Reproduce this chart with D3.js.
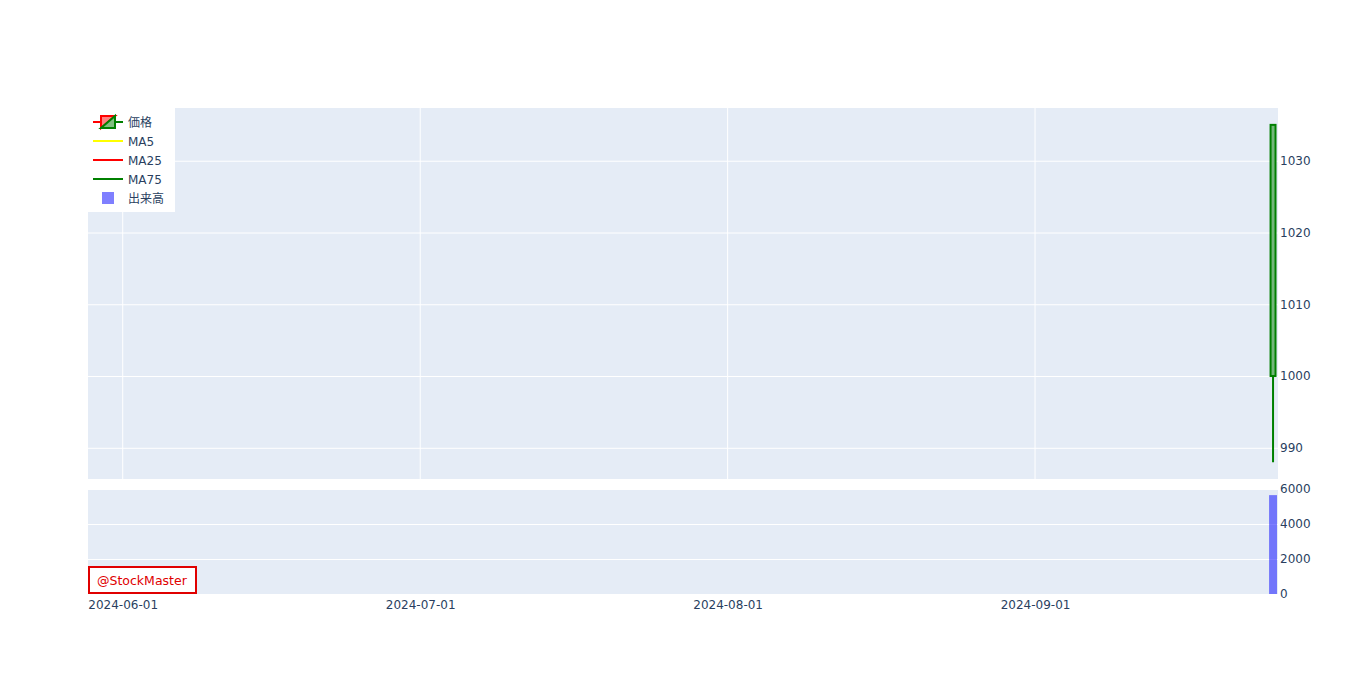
<!DOCTYPE html>
<html>
<head>
<meta charset="utf-8">
<script src="https://cdn.jsdelivr.net/npm/d3@7"></script>
<style>
  body { margin: 0; background: #fff; }
  text { font-family: "DejaVu Sans", Verdana, "Noto Sans CJK JP", sans-serif; }
</style>
</head>
<body>
<div class="chart"></div>
<script>
// data
const dates = ["2024-09-25"];
const openPrice = [1000];
const highPrice = [1035];
const lowPrice = [988];
const closePrice = [1035];
const volume = [5650];
const ma5 = [null];
const ma25 = [null];
const ma75 = [null];
const priceTicks = [990, 1000, 1010, 1020, 1030];
const volumeTicks = [0, 2000, 4000, 6000];
const xRange = ["2024-05-28T12:00:00Z", "2024-09-25T12:00:00Z"];

const width = 1366,
  height = 683;
const left = 88,
  right = 1278;
const priceTop = 108,
  priceBottom = 479;
const volTop = 489,
  volBottom = 594;
const bg = "#e5ecf6",
  tickColor = "#2a3f5f";

const rows = dates.map((d, i) => ({
  date: new Date(d + "T00:00:00Z"),
  open: openPrice[i],
  high: highPrice[i],
  low: lowPrice[i],
  close: closePrice[i],
  volume: volume[i],
}));

const svg = d3
  .select(".chart")
  .append("svg")
  .attr("width", width)
  .attr("height", height);

const x = d3
  .scaleUtc()
  .domain(xRange.map((d) => new Date(d)))
  .range([left, right]);

const y = d3.scaleLinear().domain([985.65, 1037.35]).range([priceBottom, priceTop]);
const yVol = d3.scaleLinear().domain([0, 6000]).range([volBottom, volTop]);

// panel backgrounds
svg.append("rect").attr("x", left).attr("y", priceTop)
  .attr("width", right - left).attr("height", priceBottom - priceTop).attr("fill", bg);
svg.append("rect").attr("x", left).attr("y", volTop)
  .attr("width", right - left).attr("height", volBottom - volTop).attr("fill", bg);

// price grid + axis (right side)
const priceAxis = d3.axisRight(y).tickValues(priceTicks).tickFormat(d3.format("d"))
  .tickSize(-(right - left)).tickPadding(2);
const pa = svg.append("g").attr("transform", "translate(" + right + ",0)").call(priceAxis);
pa.select(".domain").remove();
pa.selectAll("line").attr("stroke", "#fff").attr("stroke-width", 1);
pa.selectAll("text").attr("fill", tickColor).style("font-size", "12px");

// vertical grid only in price panel
const monthTicks = x.ticks(d3.utcMonth.every(1));
svg.append("g").selectAll("line").data(monthTicks).enter().append("line")
  .attr("x1", (d) => x(d)).attr("x2", (d) => x(d))
  .attr("y1", priceTop).attr("y2", priceBottom)
  .attr("stroke", "#fff").attr("stroke-width", 1);

// volume grid + axis
const volAxis = d3.axisRight(yVol).tickValues(volumeTicks).tickFormat(d3.format("d"))
  .tickSize(-(right - left)).tickPadding(2);
const va = svg.append("g").attr("transform", "translate(" + right + ",0)").call(volAxis);
va.select(".domain").remove();
va.selectAll("line").attr("stroke", "#fff").attr("stroke-width", 1);
va.selectAll("text").attr("fill", tickColor).style("font-size", "12px");

// date axis under volume panel
const xa = svg.append("g").attr("transform", "translate(0," + volBottom + ")")
  .call(d3.axisBottom(x).tickValues(monthTicks).tickFormat(d3.utcFormat("%Y-%m-%d")).tickSize(0).tickPadding(6));
xa.select(".domain").remove();
xa.selectAll("text").attr("fill", tickColor).style("font-size", "12px");

// moving averages (no values yet)
const maLine = d3.line()
  .defined((d) => d.v != null)
  .x((d) => x(d.date))
  .y((d) => y(d.v));
[[ma5, "yellow"], [ma25, "red"], [ma75, "green"]].forEach(([vals, c]) => {
  svg.append("path")
    .datum(rows.map((r, i) => ({ date: r.date, v: vals[i] })))
    .attr("d", maLine).attr("fill", "none").attr("stroke", c).attr("stroke-width", 2);
});

// candles
const dayPx = x(new Date("2024-06-02T00:00:00Z")) - x(new Date("2024-06-01T00:00:00Z"));
const bodyW = dayPx * 0.5;
const candles = svg.append("g").selectAll("g").data(rows).enter().append("g");
candles.append("line")
  .attr("x1", (d) => x(d.date)).attr("x2", (d) => x(d.date))
  .attr("y1", (d) => y(d.high)).attr("y2", (d) => y(d.low))
  .attr("stroke", (d) => (d.close >= d.open ? "green" : "red")).attr("stroke-width", 2);
candles.append("rect")
  .attr("x", (d) => x(d.date) - bodyW / 2)
  .attr("y", (d) => y(Math.max(d.open, d.close)))
  .attr("width", bodyW)
  .attr("height", (d) => Math.abs(y(d.open) - y(d.close)))
  .attr("fill", (d) => (d.close >= d.open ? "rgb(115,182,123)" : "rgb(242,118,123)"))
  .attr("stroke", (d) => (d.close >= d.open ? "green" : "red")).attr("stroke-width", 2);

// volume bars
const barW = dayPx * 0.8;
svg.append("g").selectAll("rect").data(rows).enter().append("rect")
  .attr("x", (d) => x(d.date) - barW / 2)
  .attr("y", (d) => yVol(d.volume))
  .attr("width", barW)
  .attr("height", (d) => yVol(0) - yVol(d.volume))
  .attr("fill", "blue").attr("fill-opacity", 0.5);

// legend
const legend = svg.append("g").attr("class", "legend");
legend.append("rect").attr("x", left).attr("y", priceTop).attr("width", 87).attr("height", 104).attr("fill", "#fff");
const legendItems = [
  { name: "価格", kind: "candle" },
  { name: "MA5", kind: "line", color: "yellow" },
  { name: "MA25", kind: "line", color: "red" },
  { name: "MA75", kind: "line", color: "green" },
  { name: "出来高", kind: "bar" },
];
legendItems.forEach((it, i) => {
  const cy = 122 + i * 19;
  const g = legend.append("g");
  if (it.kind === "line") {
    g.append("line").attr("x1", 93).attr("x2", 123).attr("y1", cy).attr("y2", cy)
      .attr("stroke", it.color).attr("stroke-width", 2);
  } else if (it.kind === "candle") {
    g.append("line").attr("x1", 93).attr("x2", 101).attr("y1", cy).attr("y2", cy).attr("stroke", "red").attr("stroke-width", 2);
    g.append("line").attr("x1", 115).attr("x2", 123).attr("y1", cy).attr("y2", cy).attr("stroke", "green").attr("stroke-width", 2);
    g.append("path").attr("d", "M101,116H115L101,128Z").attr("fill", "rgb(255,128,128)").attr("stroke", "red").attr("stroke-width", 2);
    g.append("path").attr("d", "M115,116V128H101Z").attr("fill", "rgb(128,192,128)").attr("stroke", "green").attr("stroke-width", 2);
  } else {
    g.append("rect").attr("x", 102).attr("y", cy - 6).attr("width", 12).attr("height", 12)
      .attr("fill", "blue").attr("fill-opacity", 0.5);
  }
  g.append("text").attr("x", 128).attr("y", cy + 5).text(it.name)
    .attr("fill", tickColor).style("font-size", "12px");
});

// watermark box
svg.append("rect").attr("x", 89).attr("y", 567).attr("width", 107).attr("height", 26)
  .attr("fill", "#fff").attr("stroke", "#e00000").attr("stroke-width", 2);
svg.append("text").attr("x", 97).attr("y", 585).text("@StockMaster")
  .attr("fill", "#e00000").style("font-size", "12.5px");
</script>
</body>
</html>
